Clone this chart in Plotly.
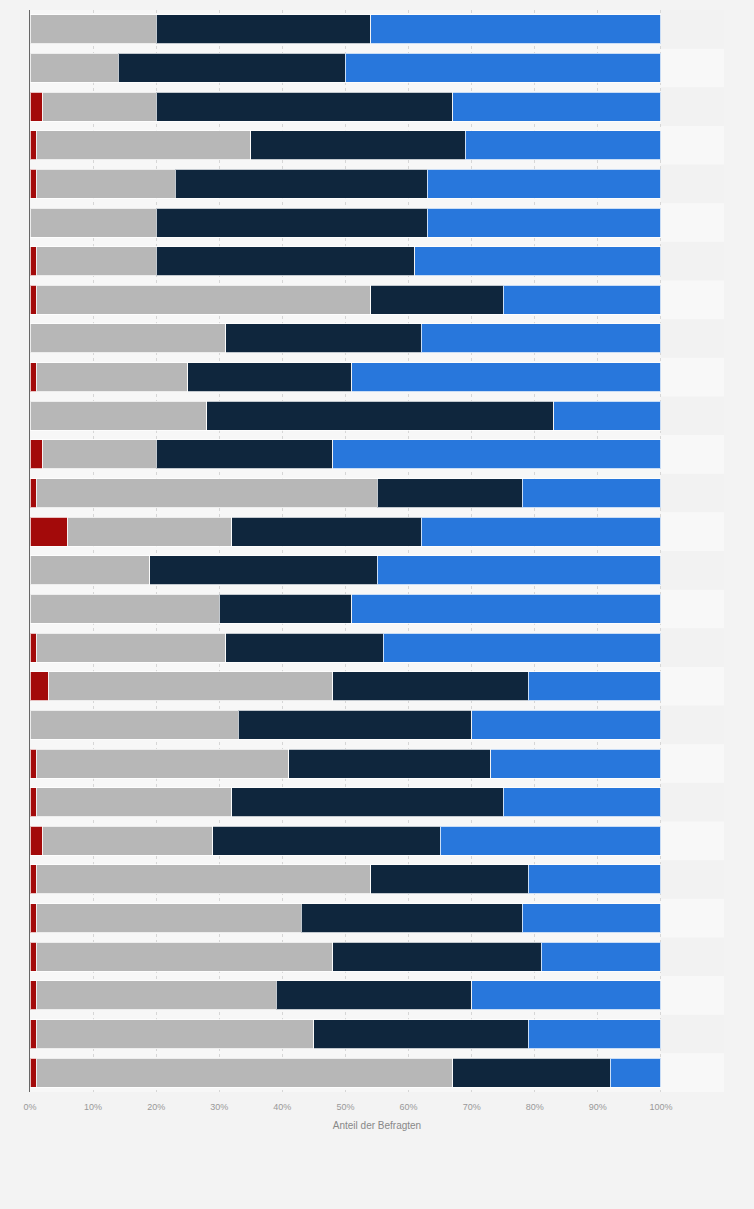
import plotly.graph_objects as go

rows = [str(i) for i in range(1, 29)]
red = [0, 0, 2, 1, 1, 0, 1, 1, 0, 1, 0, 2, 1, 6, 0, 0, 1, 3, 0, 1, 1, 2, 1, 1, 1, 1, 1, 1]
gray = [20, 14, 18, 34, 22, 20, 19, 53, 31, 24, 28, 18, 54, 26, 19, 30, 30, 45, 33, 40, 31, 27, 53, 42, 47, 38, 44, 66]
navy = [34, 36, 47, 34, 40, 43, 41, 21, 31, 26, 55, 28, 23, 30, 36, 21, 25, 31, 37, 32, 43, 36, 25, 35, 33, 31, 34, 25]
blue = [46, 50, 33, 31, 37, 37, 39, 25, 38, 49, 17, 52, 22, 38, 45, 49, 44, 21, 30, 27, 25, 35, 21, 22, 19, 30, 21, 8]

tick_vals = [0, 10, 20, 30, 40, 50, 60, 70, 80, 90, 100, 110]
tick_text = ["0%", "10%", "20%", "30%", "40%", "50%", "60%", "70%", "80%", "90%", "100%", ""]

series = [
    (red, "#a30a0a"),
    (gray, "#b7b7b7"),
    (navy, "#0f263d"),
    (blue, "#2877dc"),
]

fig = go.Figure()
for vals, col in series:
    fig.add_trace(go.Bar(
        y=rows, x=vals, orientation="h",
        marker=dict(color=col, line=dict(color="rgba(255,255,255,0.75)", width=1)),
        showlegend=False, hoverinfo="x",
    ))

shapes = []
for i, r in enumerate(rows):
    if i % 2 == 1:
        shapes.append(dict(type="rect", xref="paper", yref="y", x0=0, x1=1,
                           y0=i - 0.5, y1=i + 0.5, fillcolor="#f8f8f8",
                           line=dict(width=0), layer="below"))
shapes.append(dict(type="rect", xref="x", yref="paper", x0=0, x1=100, y0=0, y1=1,
                   fillcolor="#f7f7f7", line=dict(width=0), layer="below"))

fig.update_layout(
    width=754, height=1209,
    barmode="stack", bargap=0.25,
    paper_bgcolor="#f3f3f3", plot_bgcolor="#f2f2f2",
    margin=dict(l=30, r=30, t=10, b=117),
    font=dict(family="Liberation Sans, Arial, sans-serif", color="#999999", size=10),
    shapes=shapes,
    xaxis=dict(
        range=[0, 110], tickvals=tick_vals, ticktext=tick_text,
        showgrid=True, gridcolor="#d6d6d6", griddash="dot", gridwidth=1,
        zeroline=False, showline=False, ticks="", ticklabelstandoff=8,
        tickfont=dict(size=9, color="#999999"),
        title=dict(text="Anteil der Befragten", font=dict(size=10, color="#888888"), standoff=10),
    ),
    yaxis=dict(
        autorange="reversed", showticklabels=False, showgrid=False,
        showline=True, linecolor="#666666", linewidth=1, ticks="", zeroline=False,
    ),
)

fig.write_html(
    "out.html",
    config={"displayModeBar": False},
    post_script="document.body.style.margin='0';document.body.style.background='#f3f3f3';",
)
